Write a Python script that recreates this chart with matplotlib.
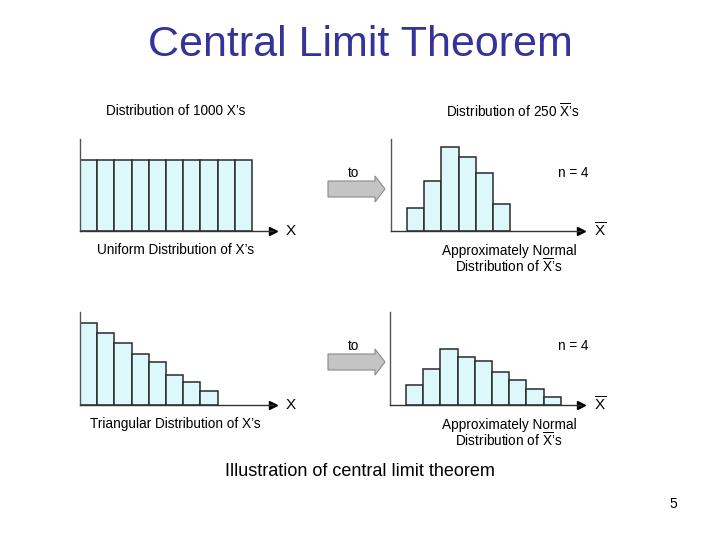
import matplotlib
matplotlib.use("Agg")
import matplotlib.pyplot as plt
import numpy as np
from matplotlib.patches import Polygon

plt.rcParams['font.family'] = ['Liberation Sans', 'DejaVu Sans']
plt.rcParams['mathtext.fontset'] = 'custom'
plt.rcParams['mathtext.rm'] = 'Liberation Sans'

# bar heights (relative units)
uniform_x = [70.7] * 10
normal_from_uniform = [22.7, 50.0, 84.3, 74.3, 58.3, 27.3]
triangular_x = [82.3, 72.3, 61.7, 50.7, 42.7, 29.7, 23.3, 14.3]
normal_from_triangular = [19.7, 36.3, 56.0, 48.3, 43.7, 33.3, 24.7, 15.7, 8.0]

XBAR = r"$\mathrm{\overline{X}}$"

fig = plt.figure(figsize=(7.2, 5.4), dpi=100)
W, H = 720, 540
BW = 17.2  # bar width in px
FACE = '#ddf8fb'
EDGE = '#2a2a2a'
AXC = '#333333'


def panel(l, t, r, b, heights, offset, xlabel):
    ax = fig.add_axes([l / W, 1 - b / H, (r - l) / W, (b - t) / H])
    x = np.arange(len(heights)) + 0.5
    ax.bar(x, heights, width=1, color=FACE, edgecolor=EDGE, linewidth=1.1)
    ax.set_xlim(-offset / BW, (r - l - offset) / BW)
    ax.set_ylim(0, b - t)
    for s in ['top', 'right']:
        ax.spines[s].set_visible(False)
    ax.spines['left'].set_color('#555555')
    ax.spines['bottom'].set_color(AXC)
    ax.spines['left'].set_linewidth(1)
    ax.spines['bottom'].set_linewidth(1)
    ax.set_xticks([])
    ax.set_yticks([])
    ax.plot([1.0], [0], marker='>', color='black', markersize=6,
            transform=ax.transAxes, clip_on=False)
    ax.text((r - l + 13) / (r - l), 0, xlabel, transform=ax.transAxes,
            ha='left', va='center', fontsize=11)
    ax.patch.set_alpha(0)
    return ax


panel(80, 139, 273, 231, uniform_x, 0, 'X')
panel(391, 139, 581, 231, normal_from_uniform, 16, XBAR)
panel(80, 312, 273, 405, triangular_x, 0, 'X')
panel(390, 312, 581, 405, normal_from_triangular, 16, XBAR)

# overlay in pixel coordinates for text and block arrows
ov = fig.add_axes([0, 0, 1, 1], zorder=-1)
ov.set_xlim(0, W)
ov.set_ylim(H, 0)
ov.axis('off')

ov.text(360, 45, 'Central Limit Theorem', ha='center', va='center',
        fontsize=31, color='#333399')

fs = 9.8
ov.text(106, 111, "Distribution of 1000 X’s", ha='left', va='center', fontsize=fs)
ov.text(446, 111, "Distribution of 250 " + XBAR + "’s", ha='left', va='center', fontsize=fs)
ov.text(176, 250, "Uniform Distribution of X’s", ha='center', va='center', fontsize=fs)
ov.text(509, 251, "Approximately Normal", ha='center', va='center', fontsize=fs)
ov.text(509, 266, "Distribution of " + XBAR + "’s", ha='center', va='center', fontsize=fs)
ov.text(175, 424, "Triangular Distribution of X’s", ha='center', va='center', fontsize=fs)
ov.text(509, 425, "Approximately Normal", ha='center', va='center', fontsize=fs)
ov.text(509, 440, "Distribution of " + XBAR + "’s", ha='center', va='center', fontsize=fs)

for yc in [189, 362]:
    pts = [(328, yc - 8), (375, yc - 8), (375, yc - 13), (385, yc),
           (375, yc + 13), (375, yc + 8), (328, yc + 8)]
    ov.add_patch(Polygon(pts, closed=True, facecolor='#c4c4c4',
                         edgecolor='#8a8a8a', linewidth=0.8))
    ov.text(354, yc - 16, 'to', ha='center', va='center', fontsize=fs)
    ov.text(573, yc - 16, 'n = 4', ha='center', va='center', fontsize=fs)

ov.text(360, 471, 'Illustration of central limit theorem', ha='center',
        va='center', fontsize=13)
ov.text(673, 504, '5', ha='center', va='center', fontsize=10)

fig.savefig('out.png', dpi=100)
